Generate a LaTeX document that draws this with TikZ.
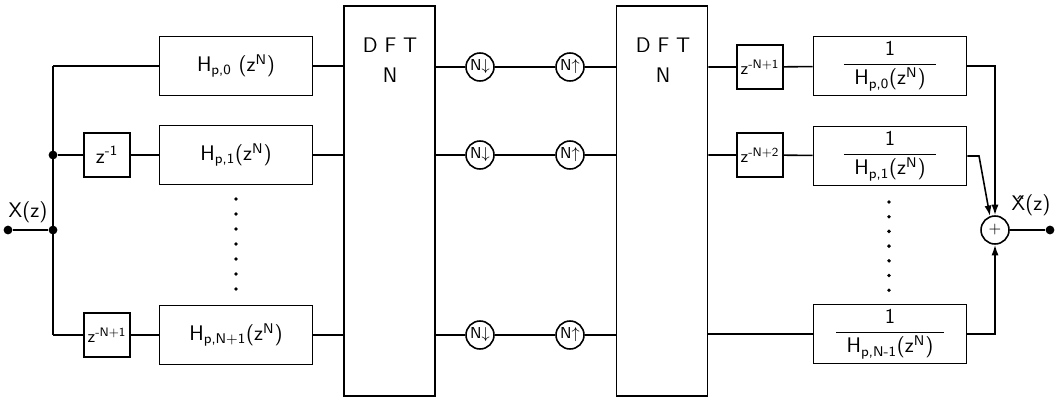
\documentclass[tikz,border=0pt]{standalone}
\usepackage{amssymb}
\usepackage{pgf, tikz}
\usetikzlibrary{arrows.meta}
\pgfdeclarelayer{edgelayer}
\pgfdeclarelayer{nodelayer}
\pgfsetlayers{edgelayer,nodelayer,main}
\tikzstyle{edge}=[draw=black, line width=0.9pt]
\tikzstyle{arrowedge}=[draw=black, line width=0.9pt, -{Latex[length=6pt,width=4pt]}]
\tikzstyle{delay}=[rectangle, fill=white, draw=black, line width=0.9pt, minimum width=0.92cm, minimum height=0.88cm, inner sep=0pt, font=\sffamily]
\tikzstyle{filter}=[rectangle, fill=white, draw=black, line width=0.9pt, minimum width=3.06cm, minimum height=1.18cm, inner sep=0pt, font=\sffamily\large]
\tikzstyle{dftbox}=[rectangle, fill=white, draw=black, line width=0.9pt, minimum width=1.82cm, minimum height=7.8cm]
\tikzstyle{rate}=[circle, fill=white, draw=black, line width=0.9pt, minimum size=0.56cm, inner sep=0pt, font=\sffamily\small]
\tikzstyle{adder}=[circle, fill=white, draw=black, line width=0.9pt, minimum size=0.56cm, inner sep=0pt, font=\sffamily\small]
\tikzstyle{dot}=[circle, fill=black, minimum size=5pt, inner sep=0pt]
\tikzstyle{label}=[font=\sffamily\large]
\newcommand{\hpz}[1]{H\textsubscript{p,#1}(z\textsuperscript{N})}
\newcommand{\invh}[1]{\(\displaystyle\frac{\hbox{1}}{\hbox{\hspace{6pt}\hpz{#1}\hspace{6pt}}}\)}

\begin{document}
\begin{tikzpicture}[x=0.02cm, y=-0.02cm]
	\useasboundingbox (0, 0) rectangle (1057, 399);
	\begin{pgfonlayer}{nodelayer}
		\node [style=dot] (1) at (8, 230) {};
		\node [style=dot] (2) at (53, 230) {};
		\node [style=dot] (3) at (53, 155) {};
		\coordinate (4) at (53, 66);
		\coordinate (5) at (53, 335);
		\node [style=delay] (6) at (107, 155) {\large z\textsuperscript{-1}};
		\node [style=delay] (7) at (107, 335) {z\textsuperscript{-N+1}};
		\node [style=label] (8) at (28, 212) {X(z)};
		\node [style=filter] (10) at (236, 66) {H\textsubscript{p,0} (z\textsuperscript{N})};
		\node [style=filter] (11) at (236, 155) {\hpz{1}};
		\node [style=filter] (12) at (236, 335) {\hpz{N+1}};
		\node [style=dftbox] (20) at (389.5, 201) {};
		\node [style=dftbox] (21) at (662, 201) {};
		\node [style=label, align=center] (22) at (390, 60) {D F T\\[3pt]N};
		\node [style=label, align=center] (23) at (663, 60) {D F T\\[3pt]N};
		\node [style=rate] (30) at (480, 67) {N$\downarrow$};
		\node [style=rate] (31) at (570, 67) {N$\uparrow$};
		\node [style=rate] (32) at (480, 155) {N$\downarrow$};
		\node [style=rate] (33) at (570, 155) {N$\uparrow$};
		\node [style=rate] (34) at (480, 335) {N$\downarrow$};
		\node [style=rate] (35) at (570, 335) {N$\uparrow$};
		\node [style=delay] (40) at (760, 67) {z\textsuperscript{-N+1}};
		\node [style=delay] (41) at (760, 155) {z\textsuperscript{-N+2}};
		\node [style=filter] (50) at (890, 66) {\invh{0}};
		\node [style=filter] (51) at (890, 156) {\invh{1}};
		\node [style=filter] (52) at (890, 334) {\invh{N-1}};
		\coordinate (9) at (979, 156);
		\node [style=adder] (60) at (995, 230) {+};
		\node [style=dot] (61) at (1050, 230) {};
		\node [style=label] (62) at (1031, 205) {\^{X}(z)};
	\end{pgfonlayer}
	\begin{pgfonlayer}{edgelayer}
		\draw [style=edge] (1) to (2);
		\draw [style=edge] (4) to (5);
		\draw [style=edge] (4) to (10);
		\draw [style=edge] (3) to (6);
		\draw [style=edge] (6) to (11);
		\draw [style=edge] (5) to (7);
		\draw [style=edge] (7) to (12);
		\foreach \r in {10, 11, 12}
			\draw [style=edge] (\r.east) -- (\r.east -| 20.west);
		\draw [style=edge] (30 -| 20.east) -- (30) -- (31) -- (31 -| 21.west);
		\draw [style=edge] (32 -| 20.east) -- (32) -- (33) -- (33 -| 21.west);
		\draw [style=edge] (34 -| 20.east) -- (34) -- (35) -- (35 -| 21.west);
		\draw [style=edge] (40 -| 21.east) -- (40) -- (50);
		\draw [style=edge] (41 -| 21.east) -- (41) -- (51);
		\draw [style=edge] (52 -| 21.east) -- (52);
		\draw [style=arrowedge] (50.east) -| (60.north);
		\draw [style=arrowedge] (51.east) -- (9) -- (60.110);
		\draw [style=arrowedge] (52.east) -| (60.south);
		\draw [style=edge] (60) to (61);
	\end{pgfonlayer}
	% dotted continuation
	\foreach \k in {0,...,6} {
		\fill (236, 199 + 15*\k) circle (1.1pt);
		\fill (889, 202 + 14.7*\k) circle (1.1pt);
	}
\end{tikzpicture}
\end{document}
